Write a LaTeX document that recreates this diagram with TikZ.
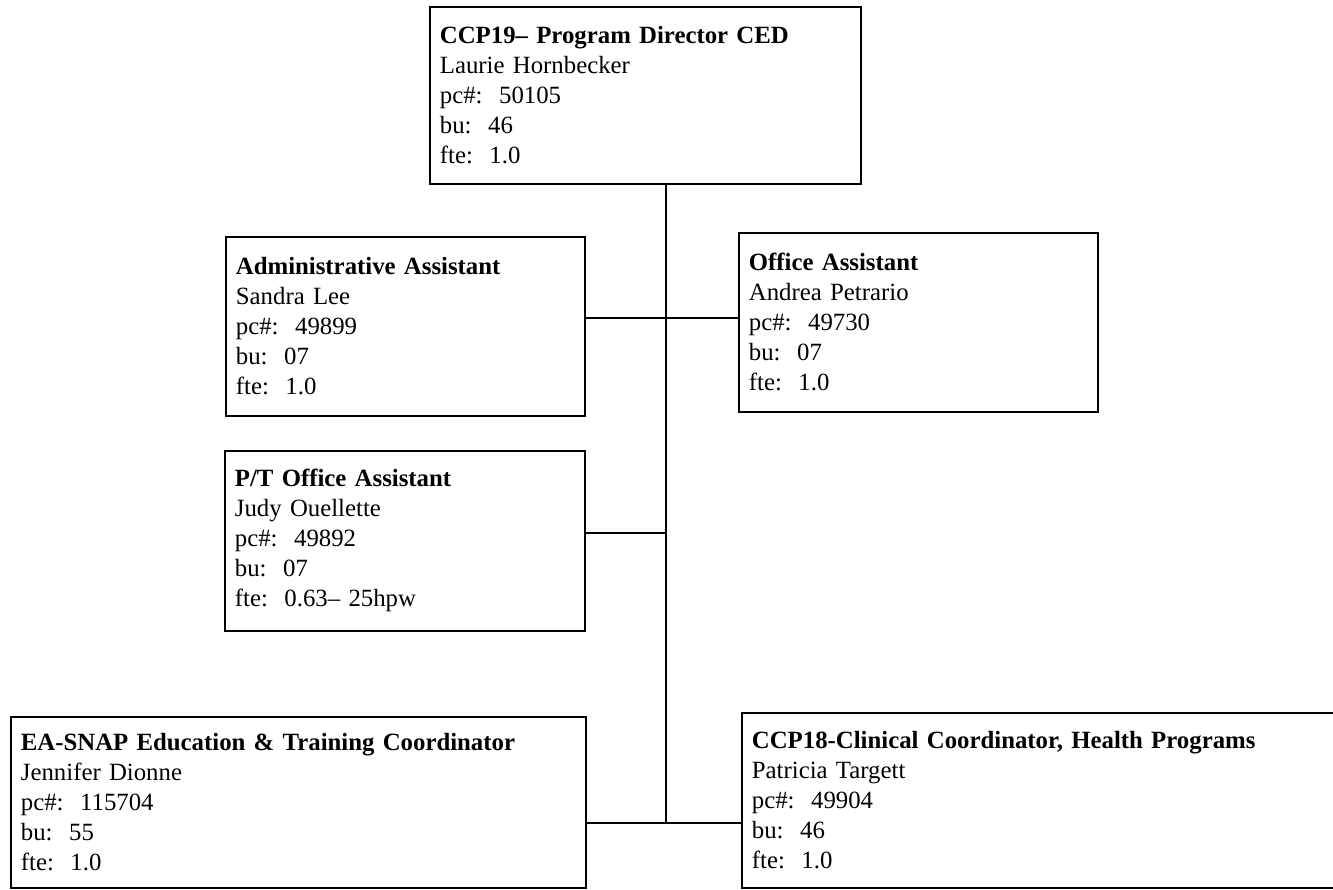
\documentclass[tikz,border=0pt]{standalone}
\usepackage{fontspec}
\setmainfont{Liberation Serif}
\newcommand{\postfont}{\fontsize{12.4}{15}\selectfont}

\begin{document}
\begin{tikzpicture}[x=0.5pt, y=-0.5pt,
    post/.style={draw, line width=0.9pt, anchor=north west, align=left,
      inner xsep=5pt, inner ysep=0pt, font=\postfont},
    link/.style={line width=0.6pt}]
    \useasboundingbox (0,0) rectangle (1333,889);
    \clip (0,0) rectangle (1333,889);
    \node [post, text width=205.5pt, minimum height=88.5pt] (DIR) at (429,6)
      {\textbf{CCP19-- Program Director CED}\\Laurie Hornbecker\\pc\#:\ \ 50105\\bu:\ \ 46\\fte:\ \ 1.0};
    \node [post, text width=169.5pt, minimum height=89.5pt] (ADM) at (225,236)
      {\textbf{Administrative Assistant}\\Sandra Lee\\pc\#:\ \ 49899\\bu:\ \ 07\\fte:\ \ 1.0};
    \node [post, text width=169.5pt, minimum height=89.5pt] (OFF) at (738,232)
      {\textbf{Office Assistant}\\Andrea Petrario\\pc\#:\ \ 49730\\bu:\ \ 07\\fte:\ \ 1.0};
    \node [post, text width=170pt, minimum height=90pt] (PTO) at (224,450)
      {\textbf{P/T Office Assistant}\\Judy Ouellette\\pc\#:\ \ 49892\\bu:\ \ 07\\fte:\ \ 0.63-- 25hpw};
    \node [post, text width=277.5pt, minimum height=85.5pt] (SNAP) at (10,716)
      {\textbf{EA-SNAP Education \& Training Coordinator}\\Jennifer Dionne\\pc\#:\ \ 115704\\bu:\ \ 55\\fte:\ \ 1.0};
    \node [post, text width=300pt, minimum height=87.5pt] (CLIN) at (741,712)
      {\textbf{CCP18-Clinical Coordinator, Health Programs}\\Patricia Targett\\pc\#:\ \ 49904\\bu:\ \ 46\\fte:\ \ 1.0};
    \coordinate (J1) at (666,318);
    \coordinate (J2) at (666,533);
    \coordinate (J3) at (666,823);
    \draw [link] (DIR.south -| J3) -- (J3);
    \draw [link] (ADM.east |- J1) -- (OFF.west |- J1);
    \draw [link] (PTO.east |- J2) -- (J2);
    \draw [link] (SNAP.east |- J3) -- (CLIN.west |- J3);
\end{tikzpicture}
\end{document}
